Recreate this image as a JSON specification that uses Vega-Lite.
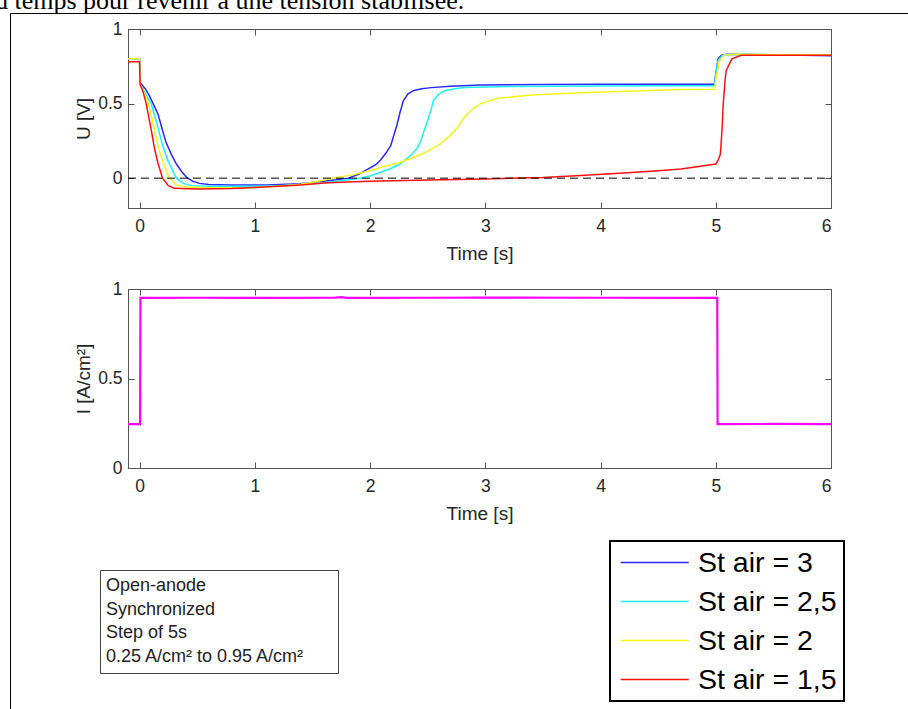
{
  "$schema": "https://vega.github.io/schema/vega-lite/v6.json",
  "padding": {"left": -5, "top": -13, "right": 10, "bottom": 5},
  "bounds": "flush",
  "spacing": 81,
  "title": {"text": "d temps pour revenir à une tension stabilisée.", "font": "Liberation Serif", "fontSize": 26, "fontWeight": "normal", "color": "#000000", "anchor": "start", "frame": "group", "dx": -133, "offset": -1},
  "config": {
    "font": "Liberation Sans",
    "view": {"stroke": "#555555", "strokeWidth": 1},
    "axis": {
      "grid": false,
      "domainColor": "#555555",
      "tickColor": "#555555",
      "tickSize": -6,
      "labelColor": "#262626",
      "titleColor": "#262626",
      "labelFontSize": 17.5,
      "titleFontSize": 19,
      "titleFontWeight": "normal",
      "labelFont": "Liberation Sans",
      "titleFont": "Liberation Sans"
    },
    "axisX": {"labelPadding": 15, "titlePadding": 9.5},
    "axisY": {"labelPadding": 12, "titlePadding": 4}
  },
  "datasets": {
    "voltage": [
      {"s": "St air = 3", "t": -0.1, "u": 0.80}, {"s": "St air = 3", "t": 0, "u": 0.80}, {"s": "St air = 3", "t": 0.005, "u": 0.64}, {"s": "St air = 3", "t": 0.05, "u": 0.60}, {"s": "St air = 3", "t": 0.087, "u": 0.55}, {"s": "St air = 3", "t": 0.13, "u": 0.48}, {"s": "St air = 3", "t": 0.16, "u": 0.43}, {"s": "St air = 3", "t": 0.2, "u": 0.32}, {"s": "St air = 3", "t": 0.23, "u": 0.24}, {"s": "St air = 3", "t": 0.276, "u": 0.16}, {"s": "St air = 3", "t": 0.32, "u": 0.095}, {"s": "St air = 3", "t": 0.37, "u": 0.04}, {"s": "St air = 3", "t": 0.41, "u": 0.005}, {"s": "St air = 3", "t": 0.46, "u": -0.02}, {"s": "St air = 3", "t": 0.52, "u": -0.035}, {"s": "St air = 3", "t": 0.6, "u": -0.042}, {"s": "St air = 3", "t": 0.8, "u": -0.045}, {"s": "St air = 3", "t": 1.1, "u": -0.045}, {"s": "St air = 3", "t": 1.39, "u": -0.038}, {"s": "St air = 3", "t": 1.6, "u": -0.02}, {"s": "St air = 3", "t": 1.81, "u": 0.0}, {"s": "St air = 3", "t": 1.9, "u": 0.025}, {"s": "St air = 3", "t": 1.97, "u": 0.055}, {"s": "St air = 3", "t": 2.05, "u": 0.09}, {"s": "St air = 3", "t": 2.09, "u": 0.12}, {"s": "St air = 3", "t": 2.14, "u": 0.17}, {"s": "St air = 3", "t": 2.18, "u": 0.22}, {"s": "St air = 3", "t": 2.235, "u": 0.36}, {"s": "St air = 3", "t": 2.26, "u": 0.44}, {"s": "St air = 3", "t": 2.29, "u": 0.52}, {"s": "St air = 3", "t": 2.33, "u": 0.565}, {"s": "St air = 3", "t": 2.38, "u": 0.588}, {"s": "St air = 3", "t": 2.45, "u": 0.60}, {"s": "St air = 3", "t": 2.53, "u": 0.607}, {"s": "St air = 3", "t": 2.7, "u": 0.617}, {"s": "St air = 3", "t": 2.96, "u": 0.625}, {"s": "St air = 3", "t": 3.5, "u": 0.628}, {"s": "St air = 3", "t": 4.0, "u": 0.63}, {"s": "St air = 3", "t": 4.5, "u": 0.63}, {"s": "St air = 3", "t": 4.99, "u": 0.63}, {"s": "St air = 3", "t": 5.0, "u": 0.70}, {"s": "St air = 3", "t": 5.02, "u": 0.80}, {"s": "St air = 3", "t": 5.05, "u": 0.825}, {"s": "St air = 3", "t": 5.1, "u": 0.83}, {"s": "St air = 3", "t": 5.5, "u": 0.827}, {"s": "St air = 3", "t": 6.0, "u": 0.82},
      {"s": "St air = 2,5", "t": -0.1, "u": 0.80}, {"s": "St air = 2,5", "t": 0, "u": 0.80}, {"s": "St air = 2,5", "t": 0.005, "u": 0.63}, {"s": "St air = 2,5", "t": 0.05, "u": 0.57}, {"s": "St air = 2,5", "t": 0.1, "u": 0.50}, {"s": "St air = 2,5", "t": 0.15, "u": 0.37}, {"s": "St air = 2,5", "t": 0.2, "u": 0.22}, {"s": "St air = 2,5", "t": 0.25, "u": 0.11}, {"s": "St air = 2,5", "t": 0.32, "u": 0.0}, {"s": "St air = 2,5", "t": 0.38, "u": -0.035}, {"s": "St air = 2,5", "t": 0.45, "u": -0.05}, {"s": "St air = 2,5", "t": 0.6, "u": -0.055}, {"s": "St air = 2,5", "t": 1.0, "u": -0.055}, {"s": "St air = 2,5", "t": 1.2, "u": -0.05}, {"s": "St air = 2,5", "t": 1.4, "u": -0.042}, {"s": "St air = 2,5", "t": 1.6, "u": -0.03}, {"s": "St air = 2,5", "t": 1.8, "u": -0.012}, {"s": "St air = 2,5", "t": 1.9, "u": -0.002}, {"s": "St air = 2,5", "t": 2.0, "u": 0.015}, {"s": "St air = 2,5", "t": 2.09, "u": 0.04}, {"s": "St air = 2,5", "t": 2.18, "u": 0.065}, {"s": "St air = 2,5", "t": 2.26, "u": 0.095}, {"s": "St air = 2,5", "t": 2.35, "u": 0.15}, {"s": "St air = 2,5", "t": 2.41, "u": 0.2}, {"s": "St air = 2,5", "t": 2.44, "u": 0.25}, {"s": "St air = 2,5", "t": 2.47, "u": 0.32}, {"s": "St air = 2,5", "t": 2.5, "u": 0.385}, {"s": "St air = 2,5", "t": 2.53, "u": 0.46}, {"s": "St air = 2,5", "t": 2.55, "u": 0.52}, {"s": "St air = 2,5", "t": 2.6, "u": 0.565}, {"s": "St air = 2,5", "t": 2.64, "u": 0.585}, {"s": "St air = 2,5", "t": 2.72, "u": 0.598}, {"s": "St air = 2,5", "t": 2.82, "u": 0.607}, {"s": "St air = 2,5", "t": 3.25, "u": 0.615}, {"s": "St air = 2,5", "t": 4.0, "u": 0.618}, {"s": "St air = 2,5", "t": 4.7, "u": 0.62}, {"s": "St air = 2,5", "t": 4.99, "u": 0.62}, {"s": "St air = 2,5", "t": 5.0, "u": 0.69}, {"s": "St air = 2,5", "t": 5.02, "u": 0.79}, {"s": "St air = 2,5", "t": 5.06, "u": 0.825}, {"s": "St air = 2,5", "t": 5.12, "u": 0.83}, {"s": "St air = 2,5", "t": 5.5, "u": 0.828}, {"s": "St air = 2,5", "t": 6.0, "u": 0.825},
      {"s": "St air = 2", "t": -0.1, "u": 0.80}, {"s": "St air = 2", "t": 0, "u": 0.80}, {"s": "St air = 2", "t": 0.005, "u": 0.63}, {"s": "St air = 2", "t": 0.04, "u": 0.57}, {"s": "St air = 2", "t": 0.078, "u": 0.50}, {"s": "St air = 2", "t": 0.12, "u": 0.36}, {"s": "St air = 2", "t": 0.16, "u": 0.22}, {"s": "St air = 2", "t": 0.2, "u": 0.11}, {"s": "St air = 2", "t": 0.26, "u": 0.0}, {"s": "St air = 2", "t": 0.32, "u": -0.045}, {"s": "St air = 2", "t": 0.4, "u": -0.06}, {"s": "St air = 2", "t": 0.6, "u": -0.065}, {"s": "St air = 2", "t": 1.0, "u": -0.062}, {"s": "St air = 2", "t": 1.2, "u": -0.055}, {"s": "St air = 2", "t": 1.4, "u": -0.04}, {"s": "St air = 2", "t": 1.55, "u": -0.02}, {"s": "St air = 2", "t": 1.67, "u": 0.0}, {"s": "St air = 2", "t": 1.85, "u": 0.022}, {"s": "St air = 2", "t": 2.0, "u": 0.05}, {"s": "St air = 2", "t": 2.09, "u": 0.072}, {"s": "St air = 2", "t": 2.26, "u": 0.105}, {"s": "St air = 2", "t": 2.38, "u": 0.14}, {"s": "St air = 2", "t": 2.5, "u": 0.18}, {"s": "St air = 2", "t": 2.61, "u": 0.23}, {"s": "St air = 2", "t": 2.7, "u": 0.29}, {"s": "St air = 2", "t": 2.76, "u": 0.34}, {"s": "St air = 2", "t": 2.8, "u": 0.39}, {"s": "St air = 2", "t": 2.845, "u": 0.43}, {"s": "St air = 2", "t": 2.9, "u": 0.47}, {"s": "St air = 2", "t": 2.96, "u": 0.50}, {"s": "St air = 2", "t": 3.11, "u": 0.535}, {"s": "St air = 2", "t": 3.4, "u": 0.557}, {"s": "St air = 2", "t": 3.83, "u": 0.572}, {"s": "St air = 2", "t": 4.3, "u": 0.585}, {"s": "St air = 2", "t": 4.7, "u": 0.594}, {"s": "St air = 2", "t": 4.99, "u": 0.596}, {"s": "St air = 2", "t": 5.0, "u": 0.66}, {"s": "St air = 2", "t": 5.03, "u": 0.78}, {"s": "St air = 2", "t": 5.07, "u": 0.825}, {"s": "St air = 2", "t": 5.15, "u": 0.83}, {"s": "St air = 2", "t": 5.5, "u": 0.828}, {"s": "St air = 2", "t": 6.0, "u": 0.825},
      {"s": "St air = 1,5", "t": -0.1, "u": 0.78}, {"s": "St air = 1,5", "t": 0, "u": 0.78}, {"s": "St air = 1,5", "t": 0.005, "u": 0.63}, {"s": "St air = 1,5", "t": 0.03, "u": 0.58}, {"s": "St air = 1,5", "t": 0.058, "u": 0.50}, {"s": "St air = 1,5", "t": 0.1, "u": 0.33}, {"s": "St air = 1,5", "t": 0.13, "u": 0.2}, {"s": "St air = 1,5", "t": 0.16, "u": 0.1}, {"s": "St air = 1,5", "t": 0.2, "u": 0.0}, {"s": "St air = 1,5", "t": 0.25, "u": -0.05}, {"s": "St air = 1,5", "t": 0.3, "u": -0.068}, {"s": "St air = 1,5", "t": 0.5, "u": -0.072}, {"s": "St air = 1,5", "t": 0.8, "u": -0.07}, {"s": "St air = 1,5", "t": 1.0, "u": -0.063}, {"s": "St air = 1,5", "t": 1.2, "u": -0.055}, {"s": "St air = 1,5", "t": 1.4, "u": -0.045}, {"s": "St air = 1,5", "t": 1.6, "u": -0.033}, {"s": "St air = 1,5", "t": 1.8, "u": -0.025}, {"s": "St air = 1,5", "t": 2.0, "u": -0.02}, {"s": "St air = 1,5", "t": 2.5, "u": -0.013}, {"s": "St air = 1,5", "t": 3.0, "u": -0.005}, {"s": "St air = 1,5", "t": 3.5, "u": 0.005}, {"s": "St air = 1,5", "t": 3.83, "u": 0.018}, {"s": "St air = 1,5", "t": 4.2, "u": 0.035}, {"s": "St air = 1,5", "t": 4.5, "u": 0.05}, {"s": "St air = 1,5", "t": 4.7, "u": 0.062}, {"s": "St air = 1,5", "t": 5.0, "u": 0.095}, {"s": "St air = 1,5", "t": 5.02, "u": 0.12}, {"s": "St air = 1,5", "t": 5.04, "u": 0.16}, {"s": "St air = 1,5", "t": 5.055, "u": 0.33}, {"s": "St air = 1,5", "t": 5.065, "u": 0.5}, {"s": "St air = 1,5", "t": 5.08, "u": 0.65}, {"s": "St air = 1,5", "t": 5.09, "u": 0.72}, {"s": "St air = 1,5", "t": 5.14, "u": 0.80}, {"s": "St air = 1,5", "t": 5.22, "u": 0.824}, {"s": "St air = 1,5", "t": 6.0, "u": 0.824}
    ],
    "current": [
      {"t": -0.1, "i": 0.245}, {"t": 0.0, "i": 0.245}, {"t": 0.005, "i": 0.244}, {"t": 0.008, "i": 0.95}, {"t": 0.5, "i": 0.951}, {"t": 1.0, "i": 0.95}, {"t": 1.7, "i": 0.952}, {"t": 1.75, "i": 0.955}, {"t": 1.8, "i": 0.95}, {"t": 2.5, "i": 0.951}, {"t": 3.0, "i": 0.952}, {"t": 4.0, "i": 0.951}, {"t": 5.0, "i": 0.95}, {"t": 5.013, "i": 0.95}, {"t": 5.016, "i": 0.245}, {"t": 5.5, "i": 0.246}, {"t": 6.0, "i": 0.245}
    ],
    "info": [
      {"line": "Open-anode"}, {"line": "Synchronized"}, {"line": "Step of 5s"}, {"line": "0.25 A/cm² to 0.95 A/cm²"}
    ],
    "page": [
      {"frame": " "}
    ]
  },
  "vconcat": [
    {
      "width": 703,
      "height": 179,
      "resolve": {"axis": {"x": "independent", "y": "independent"}},
      "layer": [
        {
          "data": {"name": "voltage"},
          "mark": {"type": "line", "strokeWidth": 1.5, "clip": true},
          "encoding": {
            "x": {"field": "t", "type": "quantitative", "scale": {"domain": [-0.1, 6], "nice": false, "zero": false}, "axis": {"title": "Time [s]", "values": [0, 1, 2, 3, 4, 5, 6], "format": "d"}},
            "y": {"field": "u", "type": "quantitative", "scale": {"domain": [-0.2, 1], "nice": false}, "axis": {"title": "U [V]", "values": [0, 0.5, 1], "format": "~g"}},
            "color": {
              "field": "s", "type": "nominal",
              "scale": {"domain": ["St air = 3", "St air = 2,5", "St air = 2", "St air = 1,5"], "range": ["#2a2aff", "#1ff2f2", "#f5f51a", "#ff1010"]},
              "legend": {
                "title": null, "orient": "none", "legendX": 482, "legendY": 512,
                "symbolType": "M-0.8,0H4.24", "symbolSize": 729, "symbolStrokeWidth": 1.5,
                "labelFontSize": 28.5, "labelColor": "#000000", "labelFont": "Liberation Sans", "labelOffset": 52,
                "rowPadding": 10, "padding": 7, "strokeColor": "#000000",
                "encode": {"legend": {"update": {"strokeWidth": {"value": 2}}}}
              }
            }
          }
        },
        {
          "data": {"values": [{}]},
          "mark": {"type": "rule", "color": "#000000", "strokeWidth": 1, "strokeDash": [8, 5]},
          "encoding": {
            "x": {"datum": -0.1, "type": "quantitative", "axis": {"orient": "top", "labels": false, "title": null, "values": [0, 1, 2, 3, 4, 5, 6]}},
            "x2": {"datum": 6},
            "y": {"datum": 0, "type": "quantitative", "axis": {"orient": "right", "labels": false, "title": null, "values": [0, 0.5, 1]}}
          }
        },
        {
          "data": {"name": "page"},
          "mark": {"type": "point", "opacity": 0},
          "encoding": {
            "strokeDash": {
              "field": "frame", "type": "nominal",
              "legend": {
                "title": null, "orient": "none", "legendX": -118, "legendY": -16,
                "padding": 460, "symbolSize": 0, "symbolOpacity": 0, "labelFontSize": 1,
                "strokeColor": "#000000",
                "encode": {"legend": {"update": {"strokeWidth": {"value": 2}}}}
              }
            }
          }
        }
      ]
    },
    {
      "width": 703,
      "height": 179,
      "resolve": {"axis": {"x": "independent", "y": "independent"}},
      "layer": [
        {
          "data": {"name": "current"},
          "mark": {"type": "line", "color": "#ff00ff", "strokeWidth": 2.2, "clip": true},
          "encoding": {
            "x": {"field": "t", "type": "quantitative", "scale": {"domain": [-0.1, 6], "nice": false, "zero": false}, "axis": {"title": "Time [s]", "values": [0, 1, 2, 3, 4, 5, 6], "format": "d"}},
            "y": {"field": "i", "type": "quantitative", "scale": {"domain": [0, 1], "nice": false}, "axis": {"title": "I [A/cm²]", "values": [0, 0.5, 1], "format": "~g"}}
          }
        },
        {
          "data": {"name": "info"},
          "mark": {"type": "point", "opacity": 0},
          "encoding": {
            "x": {"datum": 0, "type": "quantitative", "axis": {"orient": "top", "labels": false, "title": null, "values": [0, 1, 2, 3, 4, 5, 6]}},
            "y": {"datum": 0, "type": "quantitative", "axis": {"orient": "right", "labels": false, "title": null, "values": [0, 0.5, 1]}},
            "shape": {
              "field": "line", "type": "nominal", "sort": null,
              "legend": {
                "title": "\u2007", "titleOrient": "right", "titlePadding": 26, "orient": "none", "legendX": -28, "legendY": 541,
                "symbolSize": 0, "symbolOpacity": 0, "labelOffset": -19, "labelLimit": 400,
                "labelFontSize": 18, "labelColor": "#222222", "labelFont": "Liberation Sans",
                "rowPadding": 5.5, "padding": 7, "strokeColor": "#444444"
              }
            }
          }
        }
      ]
    }
  ]
}
